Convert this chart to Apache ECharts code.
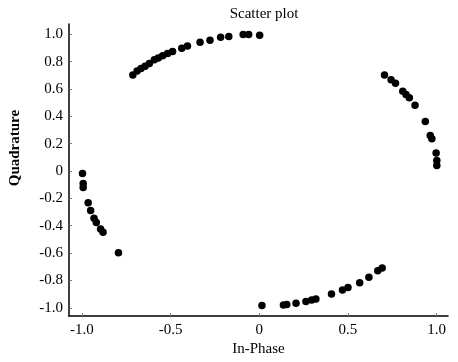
<!DOCTYPE html>
<html>
<head>
<meta charset="utf-8">
<script src="https://cdn.jsdelivr.net/npm/echarts@6/dist/echarts.min.js"></script>
<style>
  html, body { margin: 0; padding: 0; background: #fff; }
  #main { width: 458px; height: 362px; }
</style>
</head>
<body>
<div id="main"></div>
<script>
// values
var inPhase = [
  -0.713, -0.689, -0.667, -0.644, -0.620, -0.592, -0.570, -0.545, -0.517, -0.489,
  -0.437, -0.405, -0.334, -0.278, -0.218, -0.172, -0.091, -0.060, 0.002,
  0.706, 0.743, 0.768, 0.809, 0.827, 0.846, 0.878, 0.936, 0.964, 0.973, 0.997, 1.001, 1.001,
  -0.997, -0.993, -0.993, -0.965, -0.951, -0.932, -0.919, -0.895, -0.881, -0.794,
  0.015, 0.136, 0.155, 0.207, 0.263, 0.295, 0.319, 0.407, 0.469, 0.500, 0.566, 0.618, 0.668, 0.693
];
var quadrature = [
  0.702, 0.731, 0.750, 0.766, 0.786, 0.814, 0.826, 0.843, 0.859, 0.874,
  0.898, 0.914, 0.941, 0.957, 0.979, 0.984, 0.998, 0.998, 0.993,
  0.702, 0.667, 0.641, 0.583, 0.559, 0.536, 0.481, 0.362, 0.259, 0.236, 0.131, 0.076, 0.040,
  -0.019, -0.091, -0.121, -0.233, -0.288, -0.345, -0.376, -0.424, -0.448, -0.598,
  -0.984, -0.979, -0.976, -0.967, -0.955, -0.943, -0.936, -0.900, -0.871, -0.852, -0.817, -0.776, -0.729, -0.709
];
var xTicks = [-1.0, -0.5, 0, 0.5, 1.0];
var yTicks = [-1.0, -0.8, -0.6, -0.4, -0.2, 0, 0.2, 0.4, 0.6, 0.8, 1.0];

document.addEventListener('DOMContentLoaded', function() {
    var myChart = echarts.init(document.getElementById('main'));
    var serif = '"Liberation Serif", "DejaVu Serif", serif';
    var fmt = function(v) { return Math.abs(v) < 1e-9 ? '0' : v.toFixed(1); };
    var points = inPhase.map(function(x, i) { return [x, quadrature[i]]; });

    var option = {
        backgroundColor: '#fff',
        animation: false,
        title: {
            text: 'Scatter plot',
            left: 259,
            textAlign: 'center',
            top: 2,
            textStyle: { fontFamily: serif, fontSize: 15, fontWeight: 'normal', color: '#000' }
        },
        grid: { left: 67, right: 10, top: 24, bottom: 40 },
        xAxis: {
            type: 'value',
            min: -1.073,
            max: 1.064,
            name: 'In-Phase',
            nameLocation: 'middle',
            nameGap: 25,
            nameTextStyle: { fontFamily: serif, fontSize: 15, color: '#000' },
            axisLine: { show: true, onZero: false, lineStyle: { color: '#000', width: 1.5 } },
            axisTick: { show: true, inside: true, length: 3, customValues: xTicks, lineStyle: { color: '#777' } },
            axisLabel: { customValues: xTicks, formatter: fmt, fontFamily: serif, fontSize: 15, color: '#000', margin: 6 },
            splitLine: { show: false }
        },
        yAxis: {
            type: 'value',
            min: -1.061,
            max: 1.075,
            name: 'Quadrature',
            nameLocation: 'middle',
            nameGap: 46,
            nameTextStyle: { fontFamily: serif, fontSize: 15, fontWeight: 'bold', color: '#000', padding: [0, 0, 0, 44] },
            axisLine: { show: true, onZero: false, lineStyle: { color: '#000', width: 1.5 } },
            axisTick: { show: true, inside: true, length: 3, customValues: yTicks, lineStyle: { color: '#777' } },
            axisLabel: { customValues: yTicks, formatter: fmt, fontFamily: serif, fontSize: 15, color: '#000', margin: 6 },
            splitLine: { show: false }
        },
        series: [
            {
                type: 'scatter',
                data: points,
                symbol: 'circle',
                symbolSize: 7.5,
                itemStyle: { color: '#000', opacity: 1 }
            }
        ]
    };

    option && myChart.setOption(option);
});
</script>
</body>
</html>
